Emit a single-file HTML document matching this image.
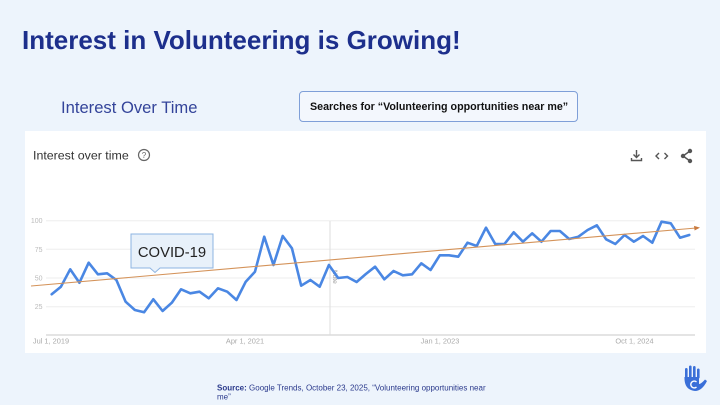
<!DOCTYPE html>
<html><head><meta charset="utf-8"><style>
html,body{margin:0;padding:0;}
body{width:720px;height:405px;overflow:hidden;background:#edf4fc;font-family:"Liberation Sans",Arial,sans-serif;position:relative;}
.t{position:absolute;white-space:nowrap;}
</style></head><body>
<div class="t" style="left:22px;top:25px;font-size:26px;font-weight:bold;color:#1d2f8c;line-height:30px;">Interest in Volunteering is Growing!</div>
<div class="t" style="left:61px;top:98px;font-size:16.6px;color:#34449a;line-height:20px;">Interest Over Time</div>
<div style="position:absolute;left:299px;top:91px;width:277px;height:29px;border:1px solid #7f9fd8;border-radius:4px;background:#f3f7fd;"></div>
<div class="t" style="left:310px;top:100.5px;font-size:10.7px;font-weight:bold;color:#111;line-height:12px;">Searches for “Volunteering opportunities near me”</div>
<div style="position:absolute;left:25px;top:131px;width:681px;height:222px;background:#fff;"></div>
<svg width="720" height="405" style="position:absolute;left:0;top:0;" xmlns="http://www.w3.org/2000/svg">
<text x="33" y="159.5" font-size="12.4" fill="#333" font-family="Liberation Sans, sans-serif">Interest over time</text>
<circle cx="144" cy="155" r="5.5" fill="none" stroke="#666" stroke-width="1.2"/>
<text x="144" y="158" font-size="8" fill="#666" text-anchor="middle" font-family="Liberation Sans, sans-serif">?</text>
<g stroke="#555" stroke-width="1.4" fill="none">
<line x1="636.5" y1="150" x2="636.5" y2="157.5"/>
<polyline points="633.5,154.5 636.5,157.5 639.5,154.5"/>
<polyline points="631.5,158 631.5,160.5 641.5,160.5 641.5,158"/>
<polyline points="659,153 656,156 659,159"/>
<polyline points="664.5,153 667.5,156 664.5,159"/>
<line x1="690" y1="151" x2="683" y2="156"/>
<line x1="690" y1="161" x2="683" y2="156"/>
</g>
<g fill="#555"><circle cx="690" cy="151" r="2.2"/><circle cx="683" cy="156" r="2.2"/><circle cx="690" cy="161" r="2.2"/></g>
<g stroke="#eeeeee" stroke-width="1">
<line x1="46" y1="220.7" x2="695" y2="220.7"/>
<line x1="46" y1="249.3" x2="695" y2="249.3"/>
<line x1="46" y1="278" x2="695" y2="278"/>
<line x1="46" y1="306.7" x2="695" y2="306.7"/>
</g>
<line x1="46" y1="335" x2="695" y2="335" stroke="#d4d4d4" stroke-width="1.2"/>
<g font-size="7" fill="#bbb" text-anchor="end" font-family="Liberation Sans, sans-serif">
<text x="42.5" y="223.2">100</text>
<text x="42.5" y="251.8">75</text>
<text x="42.5" y="280.5">50</text>
<text x="42.5" y="309.2">25</text>
</g>
<g font-size="7.4" fill="#aaa" text-anchor="middle" font-family="Liberation Sans, sans-serif">
<text x="51" y="343.5">Jul 1, 2019</text>
<text x="245" y="343.5">Apr 1, 2021</text>
<text x="440" y="343.5">Jan 1, 2023</text>
<text x="634.5" y="343.5">Oct 1, 2024</text>
</g>
<line x1="330" y1="221" x2="330" y2="335" stroke="#dddddd" stroke-width="1"/>
<text x="333" y="270" font-size="6.5" fill="#999" transform="rotate(90 333 270)" font-family="Liberation Sans, sans-serif">Note</text>
<polyline fill="none" stroke="#4a87e3" stroke-width="2.6" stroke-linejoin="round" stroke-linecap="round" points="51.7,294.3 60.94,286.7 70.18,269.3 79.42,282.7 88.66,262.7 97.9,274.3 107.14,273.3 116.38,280 125.62,301.7 134.86,310 144.1,312.3 153.34,299.3 162.58,311 171.82,302.7 181.06,289.3 190.3,293.3 199.54,291.7 208.78,298.3 218.02,288.3 227.26,291.7 236.5,300 245.74,281.7 254.98,271.7 264.22,236.7 273.46,265 282.7,236 291.94,248.3 301.18,285.7 310.42,280 319.66,286.7 328.9,265 338.14,278 347.38,277 356.62,282 365.86,274 375.1,266.7 384.34,279.3 393.58,271 402.82,275.3 412.06,274.3 421.3,263.3 430.54,270 439.78,255.3 449.02,255.3 458.26,256.7 467.5,242.7 476.74,246 485.98,227.7 495.22,244 504.46,244 513.7,232.3 522.94,241.7 532.18,233.3 541.42,241.7 550.66,231 559.9,231 569.14,239 578.38,236.7 587.62,230 596.86,225.3 606.1,239.3 615.34,244 624.58,235 633.82,241.7 643.06,236 652.3,242.7 661.54,221.7 670.78,223.3 680.02,237.7 689.26,235"/>
<line x1="31" y1="286" x2="696" y2="228" stroke="#d4935a" stroke-width="1.1"/>
<polygon points="700,227.6 694,225.9 694.6,230.5" fill="#c97a3e"/>
<path d="M131,234 H213 V268 H160 L155,272.5 L150,268 H131 Z" fill="#e8f1fa" stroke="#8db4e2" stroke-width="1"/>
<text x="172" y="257" font-size="14.8" fill="#222" text-anchor="middle" font-family="Liberation Sans, sans-serif">COVID-19</text>
<g fill="#3a6fd8" stroke="none">
<rect x="685" y="368" width="2.6" height="12" rx="1.3"/>
<rect x="689" y="365.5" width="2.6" height="13" rx="1.3"/>
<rect x="693" y="366" width="2.6" height="12.5" rx="1.3"/>
<rect x="697" y="368.5" width="2.6" height="10" rx="1.3"/>
<path d="M684.5,377 Q684,390 695,391 Q702,391 707,381 L705,379.5 Q701,384 699,384 L699,377 Z"/>
</g>
<path d="M696.5,382 A3.4,3.4 0 1 0 696.5,387" fill="none" stroke="#fff" stroke-width="1.4"/>
<text x="217" y="390.5" font-size="8" fill="#2b3a8c" font-family="Liberation Sans, sans-serif"><tspan font-weight="bold">Source:</tspan> Google Trends, October 23, 2025, “Volunteering opportunities near</text>
<text x="217" y="399.5" font-size="8" fill="#2b3a8c" font-family="Liberation Sans, sans-serif">me”</text>
</svg>
</body></html>
